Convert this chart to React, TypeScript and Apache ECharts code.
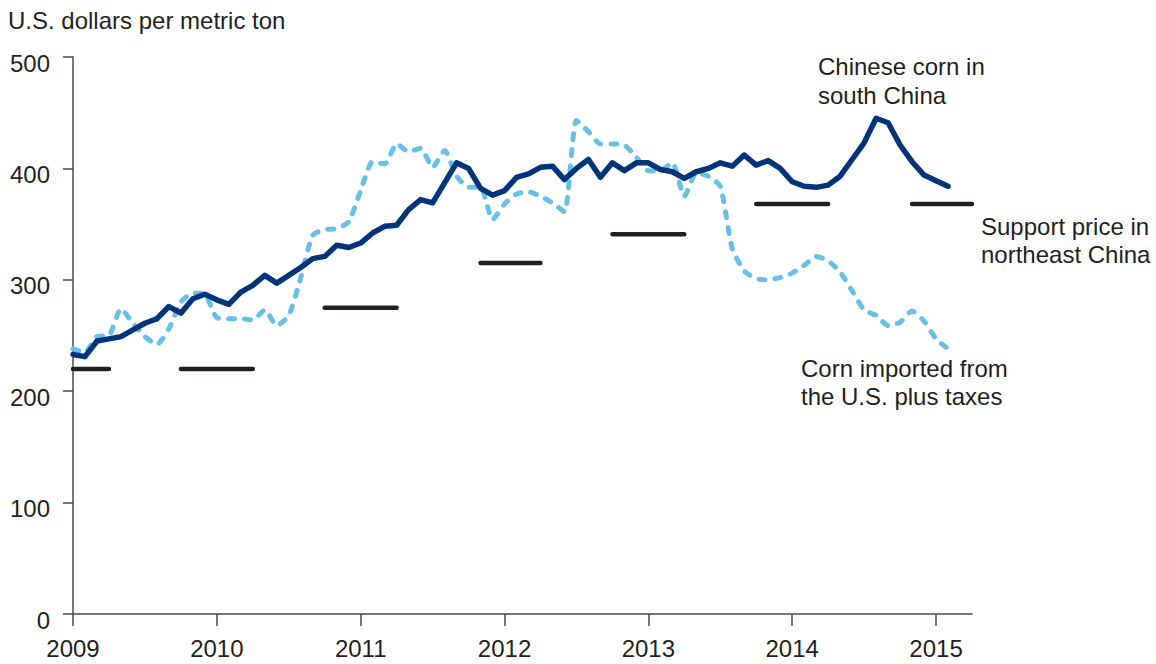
import React, { useEffect, useRef } from "react";
import * as echarts from "echarts";

// Monthly categories, Jan 2009 .. Apr 2015
const yearLabels = ["2009", "2010", "2011", "2012", "2013", "2014", "2015"];
const monthCount = 76;
const months: string[] = Array.from({ length: monthCount }, (_, i) => {
  const y = 2009 + Math.floor(i / 12);
  const m = (i % 12) + 1;
  return `${y}-${m < 10 ? "0" + m : m}`;
});

// Chinese corn in south China (US$/metric ton), Jan 2009 .. Feb 2015
const southChina = [
  233, 231, 245, 247, 249, 255, 261, 265, 276, 270, 283, 287,
  282, 278, 289, 295, 304, 297, 304, 311, 319, 321, 331, 329,
  333, 342, 348, 349, 363, 372, 369, 387, 405, 400, 382, 376,
  380, 392, 395, 401, 402, 390, 400, 408, 392, 405, 398, 405,
  405, 399, 397, 391, 397, 400, 405, 402, 412, 403, 407, 400,
  388, 384, 383, 385, 393, 408, 423, 445, 441, 421, 406, 394,
  389, 384,
];

// Corn imported from the U.S. plus taxes, Jan 2009 .. Feb 2015
const usImported = [
  238, 235, 249, 250, 274, 261, 249, 242, 256, 280, 288, 287,
  266, 265, 265, 264, 273, 259, 268, 302, 340, 345, 346, 352,
  380, 406, 404, 422, 415, 418, 401, 416, 393, 383, 383, 354,
  368, 377, 379, 375, 369, 361, 443, 433, 422, 422, 421, 410,
  398, 398, 405, 375, 396, 393, 384, 328, 308, 301, 300, 302,
  306, 313, 321, 317, 307, 290, 273, 268, 259, 262, 272, 263,
  247, 238,
];

// Support price in northeast China: segments (month index start/end, value)
const supportStart = [0, 9, 21, 34, 45, 57, 70];
const supportEnd = [3, 15, 27, 39, 51, 63, 75];
const supportValue = [220, 220, 275, 315, 341, 368, 368];

const FONT = "'Liberation Sans', Arial, Helvetica, sans-serif";
const TEXT = "#231f20";
const FS = 24;

function buildSupport(): (number | null)[] {
  const arr: (number | null)[] = new Array(monthCount).fill(null);
  supportStart.forEach((s, k) => {
    for (let i = s; i <= supportEnd[k]; i++) arr[i] = supportValue[k];
  });
  return arr;
}

export default function App() {
  const ref = useRef<HTMLDivElement>(null);
  useEffect(() => {
    if (!ref.current) return;
    const chart = echarts.init(ref.current, undefined, { renderer: "svg" });
    const isYearStart = (idx: number) => idx % 12 === 0;
    const txt = (s: string, x: number, baseline: number) => ({
      type: "text",
      x,
      y: baseline - 7,
      style: {
        text: s,
        fill: TEXT,
        font: `${FS}px ${FONT}`,
        verticalAlign: "middle",
        align: "left",
      },
    });
    chart.setOption({
      animation: false,
      backgroundColor: "#ffffff",
      grid: { left: 73, top: 57, right: 184, bottom: 50 },
      xAxis: {
        type: "category",
        data: months,
        boundaryGap: false,
        axisLine: { lineStyle: { color: "#4a4a4a", width: 1.5 } },
        axisTick: {
          show: true,
          length: 12,
          interval: (idx: number) => isYearStart(idx),
          lineStyle: { color: "#4a4a4a", width: 1.5 },
        },
        axisLabel: {
          interval: (idx: number) => isYearStart(idx),
          formatter: (_v: string, idx: number) => yearLabels[Math.floor(idx / 12)] ?? "",
          margin: 22,
          color: TEXT,
          fontSize: FS,
          fontFamily: FONT,
        },
        splitLine: { show: false },
      },
      yAxis: {
        type: "value",
        min: 0,
        max: 500,
        interval: 100,
        axisLine: { show: true, lineStyle: { color: "#4a4a4a", width: 1.5 } },
        axisTick: { show: true, length: 10, lineStyle: { color: "#4a4a4a", width: 1.5 } },
        axisLabel: {
          margin: 23,
          color: TEXT,
          fontSize: FS,
          fontFamily: FONT,
          verticalAlign: "top",
          lineHeight: 12,
        },
        splitLine: { show: false },
      },
      series: [
        {
          name: "Corn imported from the U.S. plus taxes",
          type: "line",
          data: usImported,
          showSymbol: false,
          smooth: 0.2,
          lineStyle: { color: "#68c0e8", width: 5, type: [6, 10], cap: "round", join: "round" },
          z: 2,
        },
        {
          name: "Chinese corn in south China",
          type: "line",
          data: southChina,
          showSymbol: false,
          lineStyle: { color: "#00347a", width: 5.5, cap: "round", join: "round" },
          z: 3,
        },
        {
          name: "Support price in northeast China",
          type: "line",
          data: buildSupport(),
          showSymbol: false,
          connectNulls: false,
          lineStyle: { color: "#231f20", width: 4.5, cap: "round" },
          z: 4,
        },
      ],
      graphic: [
        txt("U.S. dollars per metric ton", 8, 27),
        txt("Chinese corn in", 818, 73),
        txt("south China", 818, 102),
        txt("Support price in", 981, 233),
        txt("northeast China", 981, 261),
        txt("Corn imported from", 801, 375),
        txt("the U.S. plus taxes", 801, 403),
      ],
    });
    return () => chart.dispose();
  }, []);
  return (
    <div
      ref={ref}
      style={{ position: "fixed", left: 0, top: 0, width: 1156, height: 664 }}
    />
  );
}
